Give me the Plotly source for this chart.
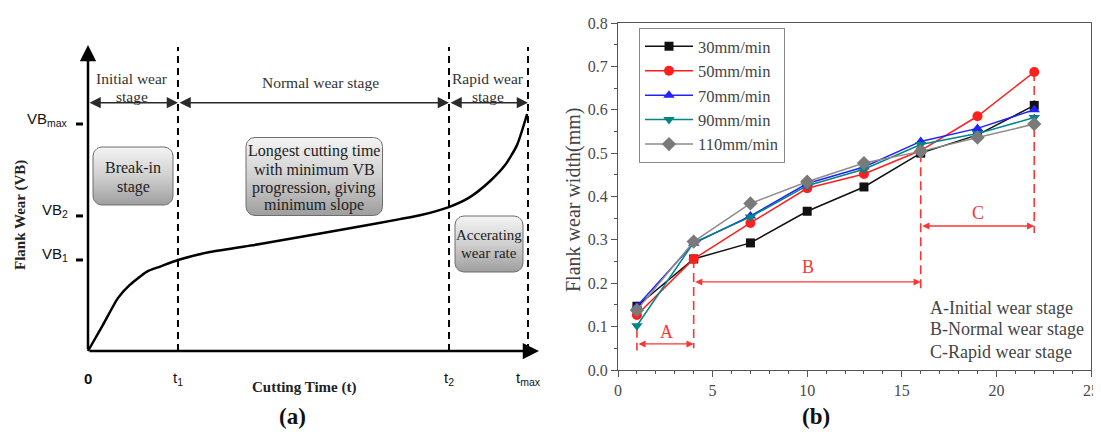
import numpy as np
import plotly.graph_objects as go

# page has an 8px body margin: the figure is sized/positioned to land on the reference pixels
OFF = 8
W, H = 1101 - OFF, 442 - OFF
SERIF = "Liberation Serif"
SANS = "Liberation Sans"

def PX(px):  # reference pixel x -> paper x
    return (px - OFF) / W

def PY(py):  # reference pixel y -> paper y
    return (442 - py) / H

# ---------------- Panel (b) data ----------------
cutting_time = [1, 4, 7, 10, 13, 16, 19, 22]
series_names = ["30mm/min", "50mm/min", "70mm/min", "90mm/min", "110mm/min"]
wear_30 = [0.147, 0.256, 0.293, 0.366, 0.422, 0.500, 0.542, 0.610]
wear_50 = [0.127, 0.256, 0.339, 0.419, 0.452, 0.506, 0.585, 0.687]
wear_70 = [0.147, 0.292, 0.355, 0.430, 0.468, 0.527, 0.557, 0.600]
wear_90 = [0.102, 0.294, 0.353, 0.425, 0.463, 0.520, 0.545, 0.582]
wear_110 = [0.138, 0.296, 0.384, 0.434, 0.477, 0.504, 0.536, 0.567]
x_ticks = [0, 5, 10, 15, 20, 25]
y_ticks = [0.0, 0.1, 0.2, 0.3, 0.4, 0.5, 0.6, 0.7, 0.8]
stage_bounds = [1, 4, 16, 22]
stage_letters = ["A", "B", "C"]
stage_notes = ["A-Initial wear stage", "B-Normal wear stage", "C-Rapid wear stage"]

# ---------------- Panel (a) schematic (normalised: t/tmax, VB/VBmax) ----------------
curve_t = [0.0, 0.034, 0.068, 0.095, 0.134, 0.164, 0.2045, 0.277, 0.391, 0.482,
           0.598, 0.709, 0.757, 0.820, 0.868, 0.914, 0.948, 0.975, 0.998]
curve_vb = [0.0, 0.115, 0.233, 0.291, 0.350, 0.372, 0.401, 0.436, 0.471, 0.502,
            0.542, 0.581, 0.599, 0.634, 0.678, 0.749, 0.819, 0.907, 1.044]
t_marks = [0.0, 0.2045, 0.8205, 1.0]
t_labels = ["<b>0</b>", "t<sub>1</sub>", "t<sub>2</sub>", "t<sub>max</sub>"]
vb_marks = [0.401, 0.595, 1.0]
vb_labels = ["VB<sub>1</sub>", "VB<sub>2</sub>", "VB<sub>max</sub>"]
stage_text_a = [["Initial wear", "stage"], ["Normal wear stage"], ["Rapid wear", "stage"]]

# pixel helpers for panel (a) (origin at px 88,351 ; tmax at px 528 ; VBmax at px 124)
def T(px):
    return (px - 88) / 440.0

def V(py):
    return (351 - py) / 227.0

fig = go.Figure()

# ---- gradient rounded boxes (panel a) ----
def rounded_box(x0, y0, x1, y1, r, n=8):
    xs, ys = [], []
    for cx, cy, a0 in [(x1 - r, y0 + r, -90), (x1 - r, y1 - r, 0),
                       (x0 + r, y1 - r, 90), (x0 + r, y0 + r, 180)]:
        for k in range(n + 1):
            a = np.radians(a0 + 90 * k / n)
            xs.append(T(cx + r * np.cos(a)))
            ys.append(V(cy + r * np.sin(a)))
    xs.append(xs[0]); ys.append(ys[0])
    return xs, ys

boxes = [
    ((93, 147, 173, 205), ["Break-in", "stage"], [167, 187], 16),
    ((246, 137.5, 382.5, 215.5), ["Longest cutting time", "with minimum VB",
                                  "progression, giving", "minimum slope"],
     [151, 169.5, 187.5, 205], 16),
    ((455, 216, 523, 272), ["Accerating", "wear rate"], [235, 253], 15),
]
annotations = []
for (x0, y0, x1, y1), lines, ly, fs in boxes:
    bx, by = rounded_box(x0, y0, x1, y1, 9)
    fig.add_trace(go.Scatter(
        x=bx, y=by, xaxis="x2", yaxis="y2", mode="lines", fill="toself",
        line=dict(color="#6e6e6e", width=1),
        fillgradient=dict(type="vertical",
                          colorscale=[[0, "#9e9e9e"], [0.5, "#d0d0d0"], [1, "#f4f4f4"]]),
        showlegend=False, hoverinfo="skip"))
    for txt, yy in zip(lines, ly):
        annotations.append(dict(x=T((x0 + x1) / 2), y=V(yy), xref="x2", yref="y2",
                                text=txt, showarrow=False,
                                font=dict(family=SERIF, size=fs, color="#222")))

# ---- wear curve (panel a) ----
fig.add_trace(go.Scatter(x=curve_t, y=curve_vb, xaxis="x2", yaxis="y2", mode="lines",
                         line=dict(color="black", width=2.5, shape="spline", smoothing=0.6),
                         showlegend=False, hoverinfo="skip"))

# ---- panel (b) series ----
styles = [
    ("#111111", "#111111", "square", 9),
    ("#ff1f1f", "#ff1f1f", "circle", 10),
    ("#2222ff", "#2222ff", "triangle-up", 10),
    ("#008585", "#008585", "triangle-down", 10),
    ("#8c8c8c", "#7a7a7a", "diamond", 11),
]
for name, vals, (lc, mc, sym, ms) in zip(series_names,
                                         [wear_30, wear_50, wear_70, wear_90, wear_110],
                                         styles):
    fig.add_trace(go.Scatter(x=cutting_time, y=vals, name=name, mode="lines+markers",
                             line=dict(color=lc, width=1.5),
                             marker=dict(symbol=sym, size=ms, color=mc),
                             xaxis="x", yaxis="y"))

shapes = []
# ---- panel (a) dashed stage lines ----
for tm in t_marks[1:]:
    shapes.append(dict(type="line", xref="x2", yref="y2", x0=tm, x1=tm, y0=0, y1=V(47),
                       line=dict(color="black", width=2, dash="7px,5px")))
# y tick dashes
for vb in vb_marks:
    shapes.append(dict(type="line", xref="x2", yref="y2", x0=T(76), x1=T(83), y0=vb, y1=vb,
                       line=dict(color="black", width=3)))

# axis arrows (panel a)
annotations.append(dict(x=0, y=V(45), ax=0, ay=0, xref="x2", yref="y2", axref="x2", ayref="y2",
                        text="", showarrow=True, arrowhead=2, arrowsize=1.3, arrowwidth=2.5,
                        arrowcolor="black"))
annotations.append(dict(x=T(539), y=0, ax=0, ay=0, xref="x2", yref="y2", axref="x2", ayref="y2",
                        text="", showarrow=True, arrowhead=2, arrowsize=1.3, arrowwidth=2.5,
                        arrowcolor="black"))
# stage double arrows
y_arrow = V(102.7)
for a, b in zip(t_marks[:-1], t_marks[1:]):
    annotations.append(dict(x=b, y=y_arrow, ax=a, ay=y_arrow, xref="x2", yref="y2",
                            axref="x2", ayref="y2", text="", showarrow=True,
                            arrowhead=2, startarrowhead=2, arrowside="end+start",
                            arrowsize=1.5, startarrowsize=1.5, arrowwidth=1.5,
                            arrowcolor="#2a2a2a"))
# stage labels
stage_label_pos = [(131.5, [78, 96]), (320, [82]), (488, [78, 96])]
for lines, (cx, ys_) in zip(stage_text_a, stage_label_pos):
    for txt, yy in zip(lines, ys_):
        annotations.append(dict(x=T(cx), y=V(yy), xref="x2", yref="y2", text=txt,
                                showarrow=False,
                                font=dict(family=SERIF, size=15.5, color="#333")))
# tick labels
for tm, lab in zip(t_marks, t_labels):
    annotations.append(dict(x=tm, y=V(378), xref="x2", yref="y2", text=lab, showarrow=False,
                            font=dict(family=SANS, size=15, color="#111")))
for vb, lab in zip(vb_marks, vb_labels):
    annotations.append(dict(x=T(70), y=vb + 5 / 227, xref="x2", yref="y2", text=lab,
                            xanchor="right", showarrow=False,
                            font=dict(family=SANS, size=15, color="#111")))
annotations.append(dict(x=T(304), y=V(387), xref="x2", yref="y2", text="<b>Cutting Time (t)</b>",
                        showarrow=False, font=dict(family=SERIF, size=15, color="#222")))
annotations.append(dict(x=T(20), y=V(215), xref="x2", yref="y2", text="<b>Flank Wear (VB)</b>",
                        textangle=-90, showarrow=False,
                        font=dict(family=SERIF, size=15, color="#222")))
annotations.append(dict(x=PX(277), y=PY(431), xref="paper", yref="paper", text="<b>(a)</b>",
                        showarrow=False, font=dict(family=SERIF, size=23, color="#111")))
annotations.append(dict(x=PX(832), y=PY(431), xref="paper", yref="paper", text="<b>(b)</b>",
                        showarrow=False, font=dict(family=SERIF, size=23, color="#111")))

# ---- panel (b) stage markers ----
RED = "#ff3434"
dash_lines = [(stage_bounds[0], 0.095, 0.045), (stage_bounds[1], 0.256, 0.05),
              (stage_bounds[2], 0.50, 0.184), (stage_bounds[3], 0.687, 0.316)]
for xv, ya, yb in dash_lines:
    shapes.append(dict(type="line", xref="x", yref="y", x0=xv, x1=xv, y0=ya, y1=yb,
                       layer="below", line=dict(color=RED, width=1.6, dash="9px,5px")))
arrow_y = [0.06, 0.203, 0.332]
letter_pos = [(2.54, 0.088), (10.04, 0.237), (19.03, 0.362)]
for i in range(3):
    a, b = stage_bounds[i], stage_bounds[i + 1]
    annotations.append(dict(x=b, y=arrow_y[i], ax=a, ay=arrow_y[i], xref="x", yref="y",
                            axref="x", ayref="y", text="", showarrow=True,
                            arrowhead=2, startarrowhead=2, arrowside="end+start",
                            arrowsize=1.1, startarrowsize=1.1, arrowwidth=1.3, arrowcolor=RED))
    annotations.append(dict(x=letter_pos[i][0], y=letter_pos[i][1], xref="x", yref="y",
                            text=stage_letters[i], showarrow=False,
                            font=dict(family=SERIF, size=18, color=RED)))
note_y = [0.143, 0.0945, 0.0415]
for txt, yy in zip(stage_notes, note_y):
    annotations.append(dict(x=16.38, y=yy, xref="x", yref="y", text=txt, xanchor="left",
                            showarrow=False, font=dict(family=SERIF, size=18, color="#444")))
annotations.append(dict(x=PX(573), y=PY(200), xref="paper", yref="paper",
                        text="Flank wear width(mm)", textangle=-90, showarrow=False,
                        font=dict(family=SERIF, size=20, color="#444")))

axis_common = dict(showline=True, linecolor="#555", linewidth=1.2, mirror=True,
                   ticks="outside", ticklen=6, tickwidth=1.2, tickcolor="#555",
                   showgrid=False, zeroline=False,
                   tickfont=dict(family=SERIF, size=16, color="#4a4a4a"))

fig.update_layout(
    width=W, height=H, margin=dict(l=0, r=0, t=0, b=0, autoexpand=False),
    paper_bgcolor="white", plot_bgcolor="rgba(0,0,0,0)",
    xaxis=dict(domain=[PX(618), PX(1091)], range=[0, 25], tickvals=x_ticks,
               minor=dict(ticks="outside", ticklen=3, dtick=1, tickcolor="#555"),
               anchor="y", **axis_common),
    yaxis=dict(domain=[PY(370), PY(23)], range=[0, 0.8], tickvals=y_ticks,
               tickformat=".1f",
               minor=dict(ticks="outside", ticklen=3, dtick=0.05, tickcolor="#555"),
               anchor="x", **axis_common),
    xaxis2=dict(domain=[0, PX(550)], range=[T(OFF), T(550)], visible=False, anchor="y2"),
    yaxis2=dict(domain=[0, 1], range=[V(442), V(OFF)], visible=False, anchor="x2"),
    legend=dict(x=PX(639), y=PY(28), xanchor="left", yanchor="top",
                bgcolor="white", bordercolor="#888", borderwidth=1,
                font=dict(family=SERIF, size=16.5, color="#444"),
                tracegroupgap=0, itemsizing="trace", itemwidth=48),
    shapes=shapes, annotations=annotations,
)

fig.write_html("out.html")
